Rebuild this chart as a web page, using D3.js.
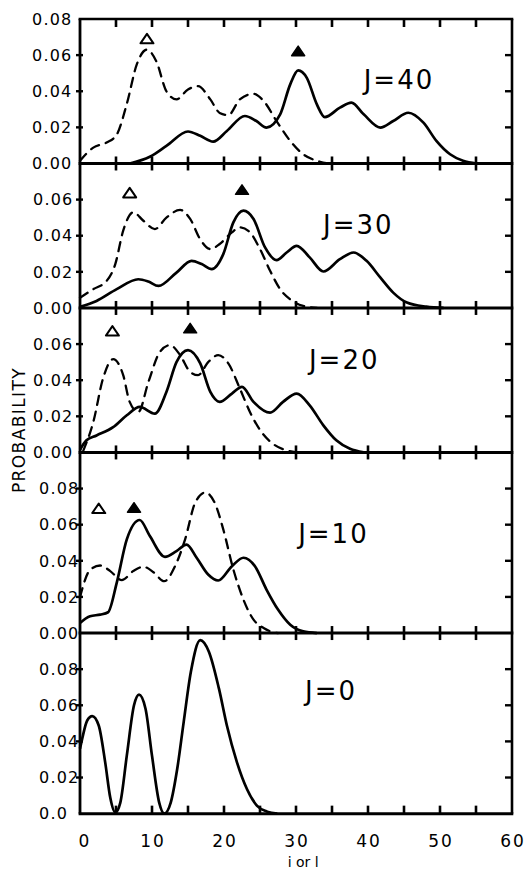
<!DOCTYPE html>
<html><head><meta charset="utf-8">
<script src="https://cdn.jsdelivr.net/npm/d3@7"></script>
<style>body{margin:0;background:#fff}svg{display:block}</style>
</head><body><svg id="c" width="527" height="869"></svg>
<script>
// ---------- data ----------
const panelNames = ["J=40", "J=30", "J=20", "J=10", "J=0"];
const panelMax = [0.08, 0.08, 0.08, 0.10, 0.10];
const xTickLabels = ["0", "10", "20", "30", "40", "50", "60"];
const xMinorTicks = [5, 10, 15, 20, 25, 30, 35, 40, 45, 50, 55];
const yTickLabelsJ40 = ["0.08", "0.06", "0.04", "0.02", "0.00"];
const yTickLabelsJ30 = ["0.06", "0.04", "0.02", "0.00"];
const yTickLabelsJ20 = ["0.06", "0.04", "0.02", "0.00"];
const yTickLabelsJ10 = ["0.08", "0.06", "0.04", "0.02", "0.00"];
const yTickLabelsJ0 = ["0.08", "0.06", "0.04", "0.02", "0.0"];

const j40Solid = [[6.9,0],[9.7,0.0037],[12.0,0.0097],[15.0,0.0177],[16.7,0.0153],[18.5,0.0121],[20.4,0.018],[22.9,0.0263],[24.5,0.0235],[25.9,0.0199],[27.8,0.0272],[29.2,0.0438],[30.3,0.0515],[31.5,0.0474],[32.9,0.0327],[34.0,0.0257],[36.1,0.0309],[37.7,0.0337],[39.4,0.0272],[41.7,0.0199],[43.5,0.0235],[45.6,0.0281],[47.7,0.0226],[49.5,0.0125],[51.4,0.0051],[53.2,0.0015],[55.1,0]];
const j40Dashed = [[0,0.0015],[1.85,0.0088],[3.7,0.0116],[5.1,0.016],[6.5,0.033],[7.9,0.055],[9.26,0.063],[10.6,0.0566],[12.0,0.040],[13.4,0.0355],[15.0,0.041],[16.4,0.0428],[18.1,0.0355],[19.4,0.028],[20.6,0.0268],[22.2,0.0355],[24.1,0.0386],[25.5,0.0346],[27.3,0.0235],[29.2,0.0125],[31.0,0.0051],[32.9,0.0015],[34.5,0]];
const j30Solid = [[0,0.0006],[2.3,0.0039],[5.1,0.0104],[8.1,0.0159],[9.5,0.0146],[10.9,0.0122],[13.4,0.0196],[15.5,0.0261],[16.9,0.0243],[18.3,0.0215],[19.9,0.0298],[21.3,0.0474],[22.7,0.0539],[24.1,0.0493],[25.7,0.0335],[27.3,0.0265],[28.7,0.0307],[30.1,0.0344],[31.9,0.028],[33.8,0.0202],[36.1,0.027],[38.0,0.0307],[39.8,0.0261],[41.7,0.0169],[43.5,0.0085],[45.4,0.003],[48.1,0.0007],[50.5,0]];
const j30Dashed = [[0,0.0057],[1.85,0.0104],[3.7,0.015],[4.9,0.0243],[6.0,0.0428],[7.4,0.053],[8.8,0.0483],[10.4,0.0437],[12.0,0.050],[13.9,0.0543],[15.3,0.0493],[16.7,0.038],[18.1,0.0326],[19.4,0.0354],[21.1,0.0419],[22.2,0.0446],[23.6,0.0419],[25.0,0.0326],[26.4,0.0206],[27.8,0.0104],[29.2,0.0048],[31.0,0.0011],[32.9,0]];
const j20Solid = [[0,0.0015],[0.9,0.0067],[2.3,0.0094],[4.6,0.014],[6.5,0.0206],[8.3,0.0252],[10.4,0.0215],[12.0,0.0335],[13.4,0.050],[15.0,0.0567],[16.7,0.0493],[18.1,0.0335],[19.4,0.028],[21.1,0.0326],[22.5,0.0363],[24.1,0.028],[26.4,0.022],[28.2,0.028],[30.1,0.0326],[31.9,0.0261],[33.8,0.015],[35.6,0.0067],[37.5,0.002],[39.4,0]];
const j20Dashed = [[0.46,0.001],[1.85,0.0169],[3.2,0.041],[4.6,0.0517],[6.0,0.0428],[6.9,0.028],[8.1,0.0224],[9.5,0.039],[11.1,0.0557],[12.5,0.0594],[13.9,0.0539],[15.3,0.0446],[16.4,0.0428],[17.8,0.050],[19.2,0.0539],[20.6,0.0493],[22.2,0.0354],[23.6,0.0224],[25.2,0.0113],[26.8,0.0048],[28.7,0.0011],[30.1,0]];
const j10Solid = [[0,0.0056],[1.4,0.0093],[2.8,0.0102],[3.9,0.0115],[5.1,0.0278],[6.5,0.0519],[8.3,0.0626],[9.7,0.0537],[11.8,0.0422],[13.4,0.0454],[14.8,0.049],[16.2,0.0417],[17.8,0.0324],[19.2,0.0291],[21.1,0.037],[22.7,0.0417],[24.3,0.037],[25.9,0.0241],[27.5,0.013],[29.2,0.0046],[31.0,0.0009],[32.9,0]];
const j10Dashed = [[0,0.020],[1.4,0.035],[2.8,0.0374],[4.2,0.0343],[5.8,0.0293],[7.4,0.0343],[8.8,0.0367],[10.2,0.0337],[11.7,0.0287],[13.2,0.037],[14.6,0.0519],[16.0,0.0722],[17.4,0.0778],[18.8,0.0713],[19.9,0.0574],[21.3,0.0352],[22.7,0.0185],[24.1,0.0074],[25.5,0.0028],[26.9,0.0004],[27.5,0]];
const j0Solid = [[0,0.036],[0.3,0.0414],[1.0,0.0516],[1.7,0.054],[2.6,0.0488],[3.5,0.0284],[4.2,0.0089],[4.9,0.0006],[5.6,0.0061],[6.5,0.0321],[7.5,0.060],[8.2,0.0659],[9.1,0.0581],[10.0,0.0321],[11.0,0.0061],[11.7,0],[12.6,0.0061],[13.5,0.0247],[14.4,0.0507],[15.4,0.0785],[16.7,0.0961],[17.9,0.0897],[19.3,0.0692],[20.4,0.0488],[21.8,0.0284],[23.2,0.0135],[24.6,0.0043],[26.0,0.0011],[27.4,0]];

const openTriangles = [[9.3,0.069],[6.9,0.0637],[4.5,0.0672],[2.6,0.0689]];
const filledTriangles = [[30.3,0.0622],[22.5,0.0654],[15.3,0.0687],[7.5,0.0694]];

// ---------- layout ----------
const X0 = 80, X1 = 512, TOP = 19, K = 1806;
const labelPos = [[39.4,0.041],[33.75,0.041],[31.8,0.0462],[30.3,0.0498],[31.25,0.0629]];
const tickLabelStart = [32, 33, 33, 39, 39];
const FONT = "'DejaVu Sans', sans-serif";

const solids = [j40Solid, j30Solid, j20Solid, j10Solid, j0Solid];
const dasheds = [j40Dashed, j30Dashed, j20Dashed, j10Dashed, null];
const yTickSets = [yTickLabelsJ40, yTickLabelsJ30, yTickLabelsJ20, yTickLabelsJ10, yTickLabelsJ0];

const svg = d3.select("#c");
const x = d3.scaleLinear().domain([0, 60]).range([X0, X1]);

let panelTop = TOP;
const frame = svg.append("g");
panelNames.forEach((name, i) => {
  const h = panelMax[i] * K;
  const bottom = panelTop + h;
  const y = d3.scaleLinear().domain([0, panelMax[i]]).range([bottom, panelTop]);
  const g = svg.append("g");

  const line = d3.line().x(d => x(d[0])).y(d => y(d[1])).curve(d3.curveMonotoneX);
  if (dasheds[i]) {
    g.append("path").attr("d", line(dasheds[i])).attr("fill", "none")
      .attr("stroke", "#000").attr("stroke-width", 2.3)
      .attr("stroke-dasharray", "9,7").attr("stroke-linecap", "round");
  }
  g.append("path").attr("d", line(solids[i])).attr("fill", "none")
    .attr("stroke", "#000").attr("stroke-width", 2.7).attr("stroke-linejoin", "round");

  const tri = "M0,-5L6.5,4.5L-6.5,4.5Z";
  if (i < openTriangles.length) {
    g.append("path").attr("d", tri)
      .attr("transform", `translate(${x(openTriangles[i][0])},${y(openTriangles[i][1])})`)
      .attr("fill", "#fff").attr("stroke", "#000").attr("stroke-width", 2).attr("stroke-linejoin", "round");
    g.append("path").attr("d", tri)
      .attr("transform", `translate(${x(filledTriangles[i][0])},${y(filledTriangles[i][1])})`)
      .attr("fill", "#000").attr("stroke", "#000").attr("stroke-width", 1.5).attr("stroke-linejoin", "round");
  }

  g.append("text").attr("x", x(labelPos[i][0])).attr("y", y(labelPos[i][1]))
    .attr("font-family", FONT).attr("font-size", 26).attr("letter-spacing", 2)
    .attr("fill", "#000").text(name);

  frame.append("line").attr("x1", X0).attr("x2", X0).attr("y1", panelTop).attr("y2", bottom)
    .attr("stroke", "#000").attr("stroke-width", 2.8);
  frame.append("line").attr("x1", X1).attr("x2", X1).attr("y1", panelTop).attr("y2", bottom)
    .attr("stroke", "#000").attr("stroke-width", 2.6);
  frame.append("line").attr("x1", X0 - 1.4).attr("x2", X1 + 1.3).attr("y1", bottom).attr("y2", bottom)
    .attr("stroke", "#000").attr("stroke-width", 3);
  if (i === 0) {
    frame.append("line").attr("x1", X0 - 1.4).attr("x2", X1 + 1.3).attr("y1", panelTop).attr("y2", panelTop)
      .attr("stroke", "#000").attr("stroke-width", 2.6);
    xMinorTicks.forEach(v => frame.append("line").attr("x1", x(v)).attr("x2", x(v))
      .attr("y1", panelTop).attr("y2", panelTop + 8).attr("stroke", "#000").attr("stroke-width", 2.6));
  }
  const last = i === panelNames.length - 1;
  xMinorTicks.forEach(v => frame.append("line").attr("x1", x(v)).attr("x2", x(v))
    .attr("y1", last ? bottom - 8 : bottom - 7).attr("y2", last ? bottom : bottom + 7)
    .attr("stroke", "#000").attr("stroke-width", 2.6));

  yTickSets[i].forEach(lbl => {
    const v = parseFloat(lbl);
    const yy = y(v);
    if (v > 0 && v < panelMax[i] - 1e-9) {
      frame.append("line").attr("x1", X0 - 4).attr("x2", X0 + 3).attr("y1", yy).attr("y2", yy)
        .attr("stroke", "#000").attr("stroke-width", 2.4);
      frame.append("line").attr("x1", X1 - 7).attr("x2", X1).attr("y1", yy).attr("y2", yy)
        .attr("stroke", "#000").attr("stroke-width", 2.4);
    }
    frame.append("text").attr("x", tickLabelStart[i]).attr("y", yy).attr("dy", "0.36em")
      .attr("font-family", FONT).attr("font-size", 16).attr("letter-spacing", 1.2)
      .attr("fill", "#000").text(lbl);
  });
  if (last) {
    xTickLabels.forEach(lbl => {
      frame.append("text").attr("x", x(+lbl) + (lbl === "0" ? 5 : 1)).attr("y", bottom + 33)
        .attr("text-anchor", "middle").attr("font-family", FONT).attr("font-size", 17)
        .attr("letter-spacing", 2).attr("fill", "#000").text(lbl);
    });
    frame.append("text").attr("x", x(31)).attr("y", bottom + 53)
      .attr("text-anchor", "middle").attr("font-family", FONT).attr("font-size", 14)
      .attr("fill", "#000").text("i or l");
  }
  panelTop = bottom;
});

svg.append("text").attr("transform", `translate(25,430) rotate(-90)`)
  .attr("text-anchor", "middle").attr("font-family", FONT).attr("font-size", 17)
  .attr("letter-spacing", 1.4).attr("fill", "#000").text("PROBABILITY");
</script></body></html>
